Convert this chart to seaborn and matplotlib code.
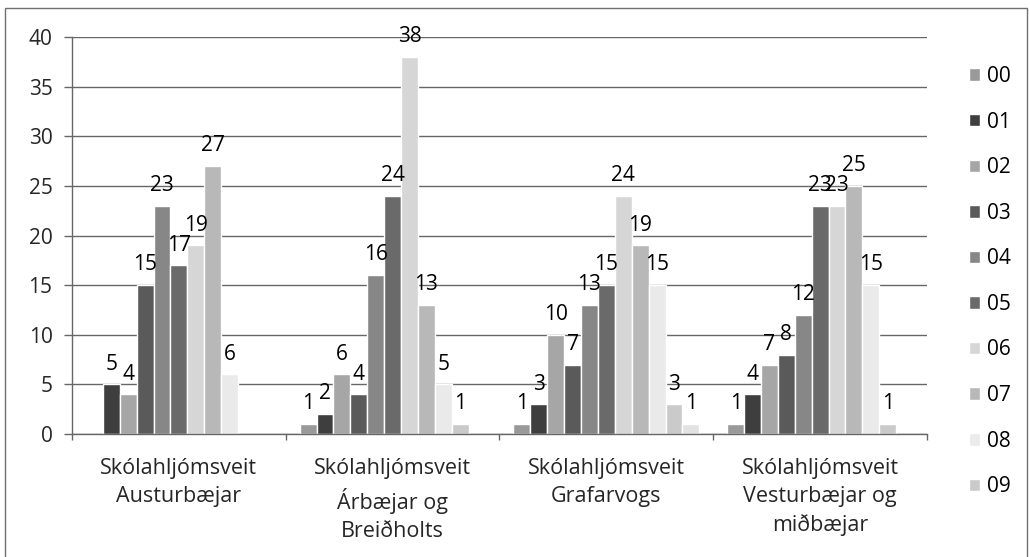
import numpy as np
import pandas as pd
import matplotlib
matplotlib.use("Agg")
import matplotlib.pyplot as plt
import seaborn as sns

# skólahljómsveitir (x-flokkar)
grupper = ['Skólahljómsveit\nAusturbæjar',
           'Skólahljómsveit\nÁrbæjar og\nBreiðholts',
           'Skólahljómsveit\nGrafarvogs',
           'Skólahljómsveit\nVesturbæjar og\nmiðbæjar']

# serier 00-10 (tom celle = nan)
serier = ['00', '01', '02', '03', '04', '05', '06', '07', '08', '09', '10']
s00 = [np.nan, 1, 1, 1]
s01 = [5, 2, 3, 4]
s02 = [4, 6, 10, 7]
s03 = [15, 4, 7, 8]
s04 = [23, 16, 13, 12]
s05 = [17, 24, 15, 23]
s06 = [19, 38, 24, 23]
s07 = [27, 13, 19, 25]
s08 = [6, 5, 15, 15]
s09 = [np.nan, 1, 3, 1]
s10 = [np.nan, np.nan, 1, np.nan]
vaerdier = [s00, s01, s02, s03, s04, s05, s06, s07, s08, s09, s10]

farver = ['#999999', '#3e3e3e', '#a6a6a6', '#5a5a5a', '#878787', '#6a6a6a',
          '#d6d6d6', '#b8b8b8', '#eaeaea', '#cacaca', '#e2e2e2']

# long format
rows = []
for navn, vals in zip(serier, vaerdier):
    for g, v in zip(grupper, vals):
        if not np.isnan(v):
            rows.append({'gruppe': g, 'serie': navn, 'antal': v})
df = pd.DataFrame(rows)

sns.set_theme(style='white')
plt.rcParams['font.family'] = ['Open Sans', 'DejaVu Sans']
plt.rcParams['text.color'] = 'black'

FS = 15

fig = plt.figure(figsize=(10.30, 5.57), dpi=100)
ax = fig.add_axes([72/1030, 1 - 434/557, (927-72)/1030, (434-37)/557])

sns.barplot(data=df, x='gruppe', y='antal', hue='serie',
            order=grupper, hue_order=serier,
            palette=dict(zip(serier, farver)), saturation=1,
            width=0.87, errorbar=None, ax=ax)

for cont in ax.containers:
    ax.bar_label(cont, fmt='%g', padding=7, fontsize=FS, clip_on=False)

ax.set_ylim(0, 40)
ax.set_yticks(range(0, 41, 5))
ax.set_xlim(-0.5, 3.5)
ax.set_xlabel('')
ax.set_ylabel('')
ax.yaxis.grid(True, color='#666666', linewidth=1)
ax.set_axisbelow(True)

for s in ['top', 'right']:
    ax.spines[s].set_visible(False)
for s in ['left', 'bottom']:
    ax.spines[s].set_color('#666666')
    ax.spines[s].set_linewidth(1)

ax.tick_params(axis='y', left=True, length=6, width=1, color='#666666',
               pad=8, labelsize=FS)
ax.set_xticks([-0.5, 0.5, 1.5, 2.5, 3.5], minor=True)
ax.tick_params(axis='x', which='minor', bottom=True, length=4, width=1,
               color='#666666')
ax.tick_params(axis='x', which='major', bottom=False, length=0, pad=17,
               labelsize=15.5)
for t in ax.get_xticklabels():
    t.set_linespacing(1.45)

# legend - kun 00-09 vises
handles, labels = ax.get_legend_handles_labels()
ax.legend_.remove()
fig.legend(handles[:10], labels[:10], loc='upper left',
           bbox_to_anchor=(969/1030, 1 - 66/557), frameon=False,
           fontsize=FS, handlelength=0.55, handleheight=0.55,
           handletextpad=0.3, labelspacing=1.18, borderpad=0,
           borderaxespad=0)

# ramme rundt om diagrammet
fig.add_artist(plt.Rectangle((5/1030, -0.2), 1022/1030, 1.2 - 8/557,
                             transform=fig.transFigure, fill=False,
                             edgecolor='#707070', linewidth=1))

fig.savefig('out.png', dpi=100)
